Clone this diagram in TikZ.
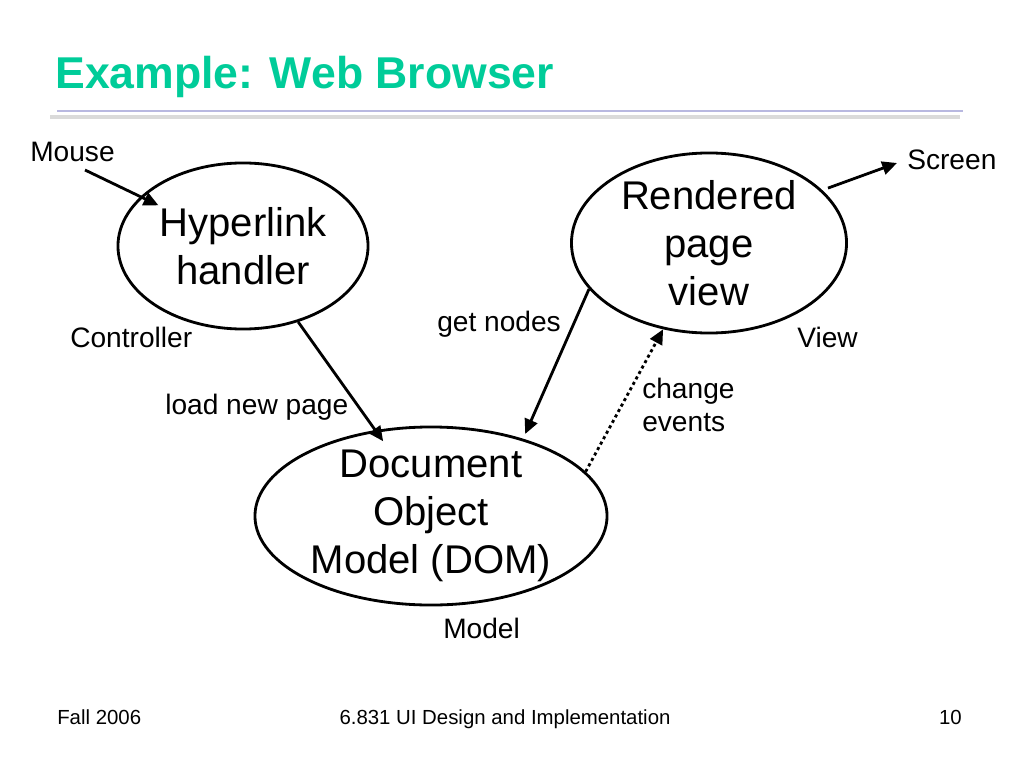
\documentclass[tikz,border=0pt]{standalone}
\usepackage{fontspec}
\setmainfont{Liberation Sans}
\usetikzlibrary{shapes.geometric,arrows.meta}
\definecolor{titlegreen}{RGB}{0,204,153}
\definecolor{rulelav}{RGB}{184,184,224}
\definecolor{ruleshadow}{RGB}{218,218,218}
\begin{document}
\begin{tikzpicture}[x=0.025cm,y=-0.025cm,
    blob/.style={ellipse,draw,line width=2pt,inner sep=0pt},
    bigtext/.style={align=center,inner sep=0pt,font=\fontsize{28.5}{34}\selectfont},
    lbl/.style={inner sep=0pt,font=\fontsize{20}{24}\selectfont},
    foot/.style={inner sep=0pt,font=\fontsize{14.5}{17}\selectfont},
    arr/.style={line width=2pt,-{Triangle[length=10.5pt,width=9.5pt]}}]
    \useasboundingbox (0,0) rectangle (1024,768);

    % title and rule
    \node[anchor=base west,inner sep=0pt,text=titlegreen,
          font=\fontsize{31.7}{38}\selectfont\bfseries] (title) at (55,89) {Example: Web Browser};
    \draw[ruleshadow,line width=2.5pt] (50,117) -- (960,117);
    \draw[rulelav,line width=1.5pt] (57,111) -- (963,111);

    % the three parts
    \node[blob,minimum width=6.25cm,minimum height=4.15cm] (hyper) at (243,246) {};
    \node[bigtext] (hypertext) at (hyper) {Hyperlink\\handler};
    \node[blob,minimum width=6.875cm,minimum height=4.5cm] (rend) at (709,243) {};
    \node[bigtext] (rendtext) at (rend) {Rendered\\page\\view};
    \node[blob,minimum width=8.8cm,minimum height=4.45cm] (dom) at (431,516) {};
    \node[bigtext] (domtext) at (dom) {Document\\Object\\Model (DOM)};

    % labels
    \node[lbl,anchor=base west] (mouse) at (30,162) {Mouse};
    \node[lbl,anchor=base west] (screen) at (907,170) {Screen};
    \node[lbl,anchor=base west] (controller) at (70,347) {Controller};
    \node[lbl,anchor=base west] (loadpage) at (165,414) {load new page};
    \node[lbl,anchor=base west] (getnodes) at (437,331) {get nodes};
    \node[lbl,anchor=base west] (view) at (797,347) {View};
    \node[lbl,anchor=west,align=left] (changeev) at (642,405) {change\\events};
    \node[lbl,anchor=base west] (model) at (443,638) {Model};

    % connectors
    \coordinate (mousefrom) at (85,170);
    \coordinate (screento) at (897,163);
    \draw[arr,shorten >=-0.5cm] (mousefrom) -- (hyper);
    \draw[arr,shorten <=0.15cm] (rend.25) -- (screento);
    \draw[arr,shorten >=-0.34cm] (hyper.-54) -- (dom.123);
    \draw[arr,shorten >=0.13cm] (rend.201) -- (dom.40);
    \draw[arr,dash pattern=on 2.2pt off 2.2pt] (dom.16) -- (rend.242);

    % footer
    \node[foot,anchor=base west] (term) at (57,724) {Fall 2006};
    \node[foot,anchor=base] (course) at (505,724) {6.831 UI Design and Implementation};
    \node[foot,anchor=base east] (pagenum) at (962,724) {10};
\end{tikzpicture}
\end{document}
